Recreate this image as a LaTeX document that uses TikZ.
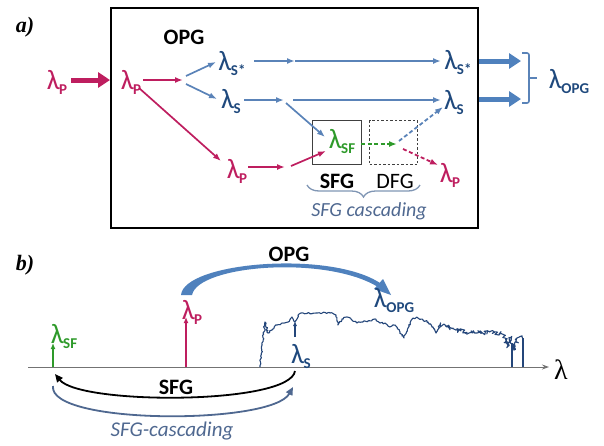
\documentclass[tikz,border=0pt]{standalone}
\usepackage{fontspec}
\setmainfont{Carlito}
\newfontfamily\labserif{Liberation Serif}
\usetikzlibrary{arrows.meta,decorations.pathreplacing,decorations.pathmorphing}
\definecolor{mag}{HTML}{BE1E5F}
\definecolor{sblue}{HTML}{5A83B8}
\definecolor{navy}{HTML}{1F497D}
\definecolor{sgreen}{HTML}{2E9A2A}
\definecolor{casc}{HTML}{4F6890}
\definecolor{brc}{HTML}{8096B4}
\definecolor{specc}{HTML}{24467A}
\definecolor{opgb}{HTML}{4F81BD}
\newcommand\lm[1]{{\fontsize{28}{28}\selectfont λ}\kern-0.5pt\raisebox{-5pt}{\fontsize{15}{15}\selectfont\bfseries #1}}
\begin{document}
\begin{tikzpicture}[x=1pt,y=-1pt,
  lab/.style={inner sep=0pt, font=\fontsize{22}{22}\selectfont},
  big/.style={inner sep=0pt, font=\fontsize{22}{22}\selectfont\bfseries},
  panel/.style={inner sep=0pt, font=\labserif\fontsize{22}{22}\selectfont\bfseries\itshape},
  arrA/.style={line width=1.7pt, -{Latex[length=8pt,width=6pt]}},
  dashA/.style={line width=1.8pt, dash pattern=on 4pt off 2.5pt, -{Latex[length=8pt,width=6pt]}},
  fat/.style={line width=5pt, -{Triangle[length=12pt,width=15pt]}},
  vert/.style={line width=2pt, -{Latex[length=6pt,width=5pt]}}
]
\useasboundingbox (0,0) rectangle (604,445);

% ---------------- panel a ----------------
\node[panel] (pa) at (25,27) {a)};
\node[draw, line width=2pt, minimum width=367pt, minimum height=220pt, inner sep=0pt, anchor=north west] (opgbox) at (110,7) {};
\node[big] (opgA) at (184,37) {OPG};

\node[lab, mag] (pout) at (57,82) {\lm{P}};
\node[lab, mag] (pin) at (131,82) {\lm{P}};
\node[lab, navy] (ss1) at (232,64) {\lm{S*}};
\node[lab, navy] (s1) at (231,102) {\lm{S}};
\node[lab, mag] (p2) at (237,171) {\lm{P}};
\node[lab, navy] (ss2) at (458,63) {\lm{S*}};
\node[lab, navy] (s2) at (454,103) {\lm{S}};
\node[lab, sgreen] (sf) at (342,142) {\lm{SF}};
\node[lab, mag] (p3) at (450,175) {\lm{P}};
\node[lab, navy] (opgout) at (569,82) {\lm{OPG}};

\node[draw=black!75, line width=1pt, minimum width=49pt, minimum height=44pt, inner sep=0pt, anchor=north west] (sfgbox) at (312,120) {};
\node[draw=black!75, line width=1pt, dash pattern=on 2.5pt off 2pt, minimum width=48pt, minimum height=44pt, inner sep=0pt, anchor=north west] (dfgbox) at (369,120) {};
\node[big] (sfgA) at (337,181) {SFG};
\node[lab] (dfgA) at (395,181) {DFG};
\coordinate (brL) at (307,185);
\coordinate (brR) at (420,185);
\draw[brc, line width=1.3pt, decorate, decoration={brace, amplitude=12pt, mirror}] (brL) -- (brR);
\node[lab, casc, font=\fontsize{20}{20}\selectfont\itshape] (cascA) at (369,211) {SFG cascading};

% coordinates of junctions
\coordinate (a0) at (71,80);   \coordinate (a1) at (110,80);
\coordinate (b0) at (143,80);  \coordinate (b1) at (183,80);
\coordinate (c0) at (186,76);  \coordinate (c1) at (216,62);
\coordinate (d0) at (186,84);  \coordinate (d1) at (217,99);
\coordinate (e0) at (254,61);  \coordinate (e1) at (295,61);  \coordinate (e2) at (441,61);
\coordinate (f0) at (244,100); \coordinate (f1) at (284,100);
\coordinate (g0) at (293,100); \coordinate (g1) at (441,100);
\coordinate (h0) at (286,103); \coordinate (h1) at (325,137);
\coordinate (i0) at (139,88);  \coordinate (i1) at (221,161);
\coordinate (k0) at (248,167); \coordinate (k1) at (285,167);
\coordinate (l0) at (291,166); \coordinate (l1) at (326,151);
\coordinate (m0) at (361,144); \coordinate (m1) at (397,144);
\coordinate (n0) at (399,141); \coordinate (n1) at (443,107);
\coordinate (o0) at (403,149); \coordinate (o1) at (438,165);
\coordinate (q0) at (479,61);  \coordinate (q1) at (521,61);
\coordinate (r0) at (479,99);  \coordinate (r1) at (521,99);

\draw[fat, mag] (a0) -- (a1);
\draw[arrA, mag] (b0) -- (b1);
\draw[arrA, sblue] (c0) -- (c1);
\draw[arrA, sblue] (d0) -- (d1);
\draw[arrA, sblue] (e0) -- (e1);
\draw[arrA, sblue] (e1) -- (e2);
\draw[arrA, sblue] (f0) -- (f1);
\draw[arrA, sblue] (g0) -- (g1);
\draw[arrA, sblue] (h0) -- (h1);
\draw[arrA, mag] (i0) -- (i1);
\draw[arrA, mag] (k0) -- (k1);
\draw[arrA, mag] (l0) -- (l1);
\draw[dashA, sgreen] (m0) -- (m1);
\draw[dashA, sblue] (n0) -- (n1);
\draw[dashA, mag] (o0) -- (o1);
\draw[fat, opgb] (q0) -- (q1);
\draw[fat, opgb] (r0) -- (r1);

\coordinate (k1a) at (522,53); \coordinate (k1b) at (529,53);
\coordinate (k2a) at (529,103); \coordinate (k2b) at (522,103);
\coordinate (kt0) at (529,78); \coordinate (kt1) at (537,78);
\draw[sblue, line width=1.6pt, rounded corners=2pt] (k1a) -- (k1b) -- (k2a) -- (k2b);
\draw[sblue, line width=1.6pt] (kt0) -- (kt1);

% ---------------- panel b ----------------
\node[panel] (pb) at (25,265) {b)};
\coordinate (ax0) at (28,367);
\coordinate (ax1) at (549,367);
\draw[black!55, line width=1pt, -{Stealth[length=7pt,width=5pt]}] (ax0) -- (ax1);
\node[inner sep=0pt, font=\labserif\fontsize{28}{28}\selectfont] (lamax) at (561,370) {λ};

\coordinate (gA) at (53,367); \coordinate (gB) at (53,343);
\draw[vert, sgreen] (gA) -- (gB);
\node[lab, sgreen] (sfB) at (64,336) {\lm{SF}};
\coordinate (pA) at (186,367); \coordinate (pB) at (186,317);
\draw[vert, mag] (pA) -- (pB);
\node[lab, mag] (pB2) at (192,312) {\lm{P}};
\coordinate (sA) at (295,337); \coordinate (sB) at (295,321);
\draw[specc, line width=1.4pt, -{Latex[length=5pt,width=4pt]}] (sA) -- (sB);
\node[lab, navy] (sBl) at (301,356) {\lm{S}};

% spectrum
\pgfmathsetseed{7}
\draw[specc, line width=1.1pt, line join=round, decorate, decoration={random steps, segment length=1.5pt, amplitude=0.9pt}]
 (260,367) -- (265,322) -- (268,333) -- (272,330) -- (277,325) -- (283,323) -- (288,322) -- (292,317) -- (295,322) -- (298,315) -- (303,313) -- (317,313) -- (330,313) -- (336,315) -- (338,325) -- (342,319) -- (347,317) -- (352,320) -- (357,323) -- (362,322) -- (368,321) -- (375,319) -- (380,323) -- (385,323) -- (390,327) -- (395,325) -- (400,332) -- (404,338) -- (408,328) -- (413,318) -- (418,318) -- (423,320) -- (428,322) -- (433,327) -- (436,333) -- (440,325);
\draw[specc, line width=1.1pt, line join=round, decorate, decoration={random steps, segment length=1pt, amplitude=2.4pt}]
 (440,325) -- (447,327) -- (453,328) -- (463,332) -- (477,333) -- (490,332) -- (500,333) -- (505,338) -- (508,346) -- (510,338) -- (512,344) -- (515,349) -- (517,338) -- (522,337) -- (523,340);
\draw[specc, line width=1.1pt] (512,343) -- (512,367);
\draw[specc, line width=1.1pt] (523,338) -- (523,367);

% OPG arc
\fill[opgb] (181,295) .. controls (184,262) and (330,250) .. (380,283) -- (378,287) .. controls (326,255) and (198,265) .. (192,295) -- cycle;
\fill[opgb] (383,279) -- (391,295) -- (374,289) -- cycle;
\node[big] (opgB) at (289,254) {OPG};
\node[lab, navy] (opgBl) at (394,300) {\lm{OPG}};

% SFG arc
\coordinate (sfR) at (295,371); \coordinate (sfL) at (55,374);
\draw[black, line width=1.8pt, -{Triangle[length=8pt,width=7pt]}] (sfR) .. controls (290,405) and (80,405) .. (sfL);
\node[big] (sfgB) at (176,387) {SFG};

% SFG cascading arc
\coordinate (scL) at (53,386); \coordinate (scR) at (293,387);
\draw[casc, line width=1.8pt, -{Triangle[length=8pt,width=7pt]}] (scL) .. controls (48,425) and (272,425) .. (scR);
\node[lab, casc, font=\fontsize{21}{21}\selectfont\itshape] (cascB) at (172,431) {SFG-cascading};
\end{tikzpicture}
\end{document}
